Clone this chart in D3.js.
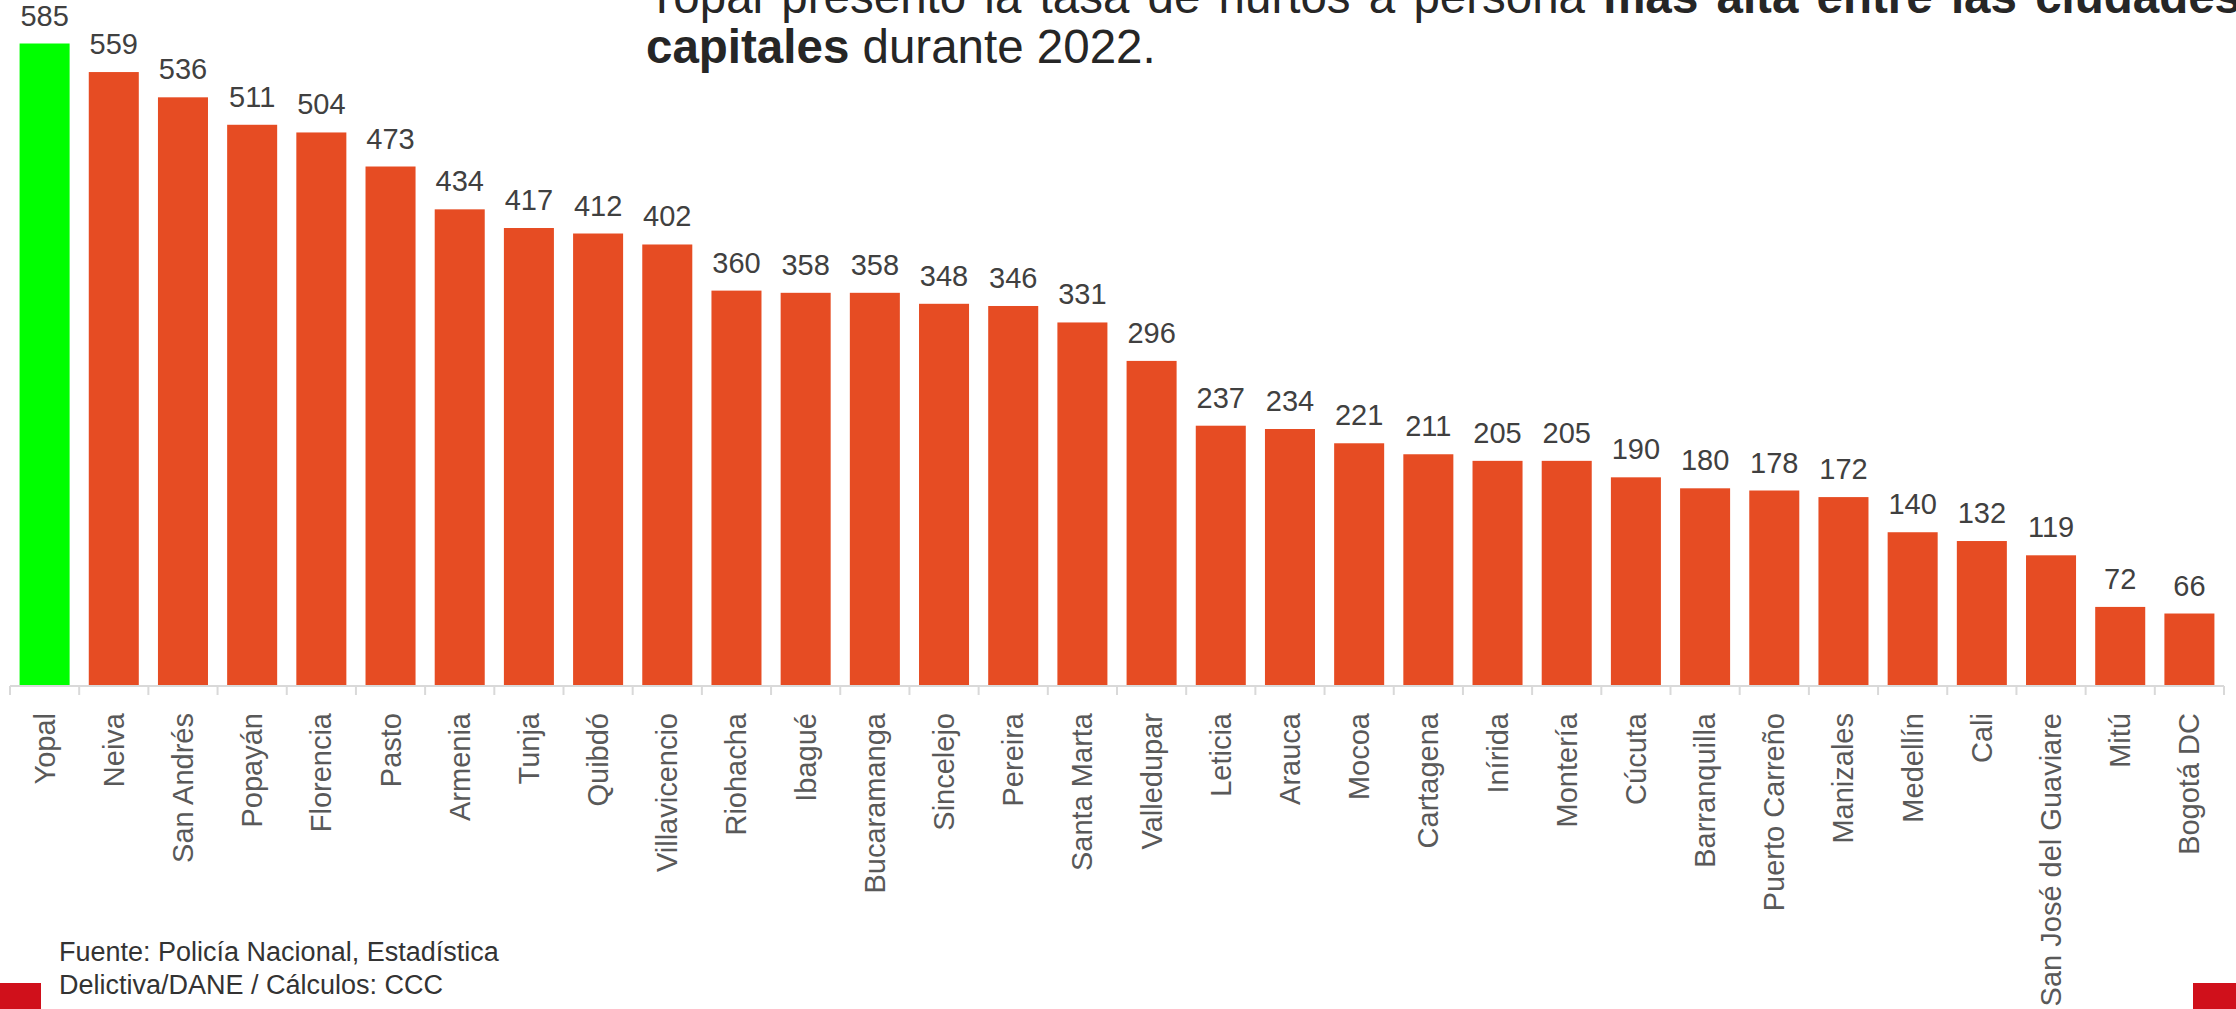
<!DOCTYPE html>
<html>
<head>
<meta charset="utf-8">
<script src="https://cdn.jsdelivr.net/npm/d3@7"></script>
<style>
  html, body { margin: 0; padding: 0; background: #fff; overflow: hidden; }
  svg { display: block; font-family: "Liberation Sans", Arial, sans-serif; }
</style>
</head>
<body>
<div id="chart"></div>
<script>
var cities = ["Yopal", "Neiva", "San Andrés", "Popayán", "Florencia", "Pasto", "Armenia",
  "Tunja", "Quibdó", "Villavicencio", "Riohacha", "Ibagué", "Bucaramanga", "Sincelejo",
  "Pereira", "Santa Marta", "Valledupar", "Leticia", "Arauca", "Mocoa", "Cartagena",
  "Inírida", "Montería", "Cúcuta", "Barranquilla", "Puerto Carreño", "Manizales",
  "Medellín", "Cali", "San José del Guaviare", "Mitú", "Bogotá DC"];
var rates = [585, 559, 536, 511, 504, 473, 434, 417, 412, 402, 360, 358, 358, 348,
  346, 331, 296, 237, 234, 221, 211, 205, 205, 190, 180, 178, 172, 140, 132, 119, 72, 66];
var highlight = "Yopal";

var W = 2236, H = 1009;

var svg = d3.select("#chart")
            .append("svg")
            .attr("width", W)
            .attr("height", H);

// title, justified first line is cut by the picture edge
var title = svg.append("text")
      .attr("x", 646)
      .attr("y", 13)
      .attr("font-size", 47.5)
      .attr("word-spacing", 5)
      .attr("fill", "#262626");
title.append("tspan").text("Yopal presentó la tasa de hurtos a persona ");
title.append("tspan").attr("font-weight", "bold").text("más alta entre las ciudades");

var title2 = svg.append("text")
      .attr("x", 646)
      .attr("y", 63)
      .attr("font-size", 47.5)
      .attr("fill", "#262626");
title2.append("tspan").attr("font-weight", "bold").text("capitales");
title2.append("tspan").text(" durante 2022.");

var x = d3.scaleBand()
          .domain(cities)
          .range([10, 2224])
          .paddingInner(0.277)
          .paddingOuter(0.1385);

var y = d3.scaleLinear()
          .domain([0, 585])
          .range([686, 43.5]);

var data = cities.map(function (c, i) { return {city: c, value: rates[i]}; });

svg.selectAll("rect.bar")
   .data(data)
   .enter()
   .append("rect")
   .attr("class", "bar")
   .attr("x", function (d) { return x(d.city); })
   .attr("y", function (d) { return y(d.value); })
   .attr("width", x.bandwidth())
   .attr("height", function (d) { return y(0) - y(d.value); })
   .attr("fill", function (d) { return d.city == highlight ? "#00FF00" : "#E64C23"; });

svg.selectAll("text.val")
   .data(data)
   .enter()
   .append("text")
   .attr("class", "val")
   .attr("x", function (d) { return x(d.city) + x.bandwidth() / 2; })
   .attr("y", function (d) { return y(d.value) - 18; })
   .attr("text-anchor", "middle")
   .attr("font-size", 29)
   .attr("fill", "#404040")
   .text(function (d) { return d.value; });

// category axis, ticks sit between the bars
var axis = svg.append("g").attr("transform", "translate(0,686)");

axis.append("line")
    .attr("x1", 10).attr("x2", 2224)
    .attr("y1", 0).attr("y2", 0)
    .attr("stroke", "#d9d9d9")
    .attr("stroke-width", 2);

var edges = cities.map(function (c) { return x(c) - x.step() * x.paddingInner() / 2; });
edges.push(2224);
edges[0] = 10;

axis.selectAll("line.tick")
    .data(edges)
    .enter()
    .append("line")
    .attr("class", "tick")
    .attr("x1", function (d) { return d; })
    .attr("x2", function (d) { return d; })
    .attr("y1", 0)
    .attr("y2", 9)
    .attr("stroke", "#d9d9d9")
    .attr("stroke-width", 2);

axis.selectAll("text.cat")
    .data(cities)
    .enter()
    .append("text")
    .attr("class", "cat")
    .attr("transform", function (d) {
      return "translate(" + (x(d) + x.bandwidth() / 2 + 10) + ",27) rotate(-90)";
    })
    .attr("text-anchor", "end")
    .attr("font-size", 29)
    .attr("fill", "#595959")
    .text(function (d) { return d; });

// source note
var note = svg.append("text")
      .attr("font-size", 27)
      .attr("fill", "#333333");
note.append("tspan").attr("x", 59).attr("y", 961).text("Fuente: Policía Nacional, Estadística");
note.append("tspan").attr("x", 59).attr("y", 994).text("Delictiva/DANE / Cálculos: CCC");

// red corner marks
svg.append("rect").attr("x", 0).attr("y", 983).attr("width", 41).attr("height", 26).attr("fill", "#D0101B");
svg.append("rect").attr("x", 2193).attr("y", 983).attr("width", 43).attr("height", 26).attr("fill", "#D0101B");
</script>
</body>
</html>
